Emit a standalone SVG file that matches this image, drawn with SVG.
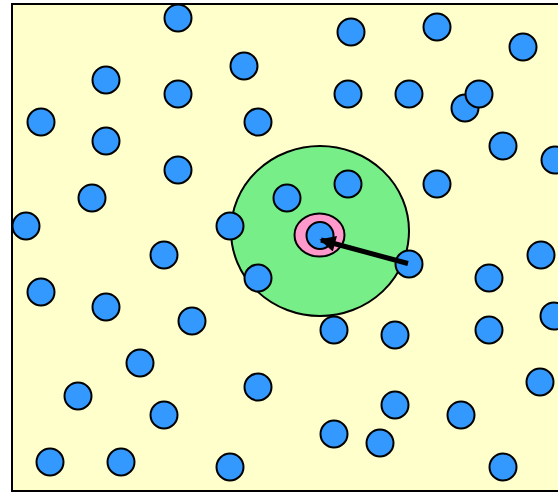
<svg xmlns="http://www.w3.org/2000/svg" width="558" height="492" viewBox="0 0 558 492">
<defs>
<style>
.p{fill:#3399ff;stroke:#000;stroke-width:2}
</style>
<marker id="ah" viewBox="0 0 10 10" refX="9" refY="5" markerWidth="3.6" markerHeight="3.2" orient="auto" markerUnits="strokeWidth">
<path d="M0,0 L10,5 L0,10 Z" fill="#000"/>
</marker>
</defs>
<rect x="12" y="4" width="560" height="487" fill="#ffffcc" stroke="#000" stroke-width="2"/>
<g id="range">
<ellipse cx="320" cy="231" rx="89" ry="85" fill="#77ee88" stroke="#000" stroke-width="2"/>
</g>
<g id="focus">
<ellipse cx="319.5" cy="235" rx="25" ry="21.5" fill="#ff99cc" stroke="#000" stroke-width="2"/>
</g>
<g id="particles">
<circle class="p" cx="178" cy="18" r="13.5"/>
<circle class="p" cx="244" cy="66" r="13.5"/>
<circle class="p" cx="106" cy="80" r="13.5"/>
<circle class="p" cx="178" cy="94" r="13.5"/>
<circle class="p" cx="41" cy="122" r="13.5"/>
<circle class="p" cx="258" cy="122" r="13.5"/>
<circle class="p" cx="106" cy="141" r="13.5"/>
<circle class="p" cx="178" cy="170" r="13.5"/>
<circle class="p" cx="92" cy="198" r="13.5"/>
<circle class="p" cx="26" cy="226" r="13.5"/>
<circle class="p" cx="230" cy="226" r="13.5"/>
<circle class="p" cx="164" cy="255" r="13.5"/>
<circle class="p" cx="351" cy="32" r="13.5"/>
<circle class="p" cx="437" cy="27" r="13.5"/>
<circle class="p" cx="523" cy="47" r="13.5"/>
<circle class="p" cx="348" cy="94" r="13.5"/>
<circle class="p" cx="409" cy="94" r="13.5"/>
<circle class="p" cx="465" cy="108" r="13.5"/>
<circle class="p" cx="479" cy="94" r="13.5"/>
<circle class="p" cx="503" cy="146" r="13.5"/>
<circle class="p" cx="555" cy="160" r="13.5"/>
<circle class="p" cx="348" cy="184" r="13.5"/>
<circle class="p" cx="437" cy="184" r="13.5"/>
<circle class="p" cx="287" cy="198" r="13.5"/>
<circle class="p" cx="320" cy="235.5" r="13.5"/>
<circle class="p" cx="41" cy="292" r="13.5"/>
<circle class="p" cx="106" cy="307" r="13.5"/>
<circle class="p" cx="192" cy="321" r="13.5"/>
<circle class="p" cx="258" cy="278" r="13.5"/>
<circle class="p" cx="140" cy="363" r="13.5"/>
<circle class="p" cx="78" cy="396" r="13.5"/>
<circle class="p" cx="258" cy="387" r="13.5"/>
<circle class="p" cx="164" cy="415" r="13.5"/>
<circle class="p" cx="50" cy="462" r="13.5"/>
<circle class="p" cx="121" cy="462" r="13.5"/>
<circle class="p" cx="230" cy="467" r="13.5"/>
<circle class="p" cx="409" cy="264" r="13.5"/>
<circle class="p" cx="541" cy="255" r="13.5"/>
<circle class="p" cx="489" cy="278" r="13.5"/>
<circle class="p" cx="554" cy="316" r="13.5"/>
<circle class="p" cx="334" cy="330" r="13.5"/>
<circle class="p" cx="395" cy="335" r="13.5"/>
<circle class="p" cx="489" cy="330" r="13.5"/>
<circle class="p" cx="540" cy="382" r="13.5"/>
<circle class="p" cx="395" cy="405" r="13.5"/>
<circle class="p" cx="461" cy="415" r="13.5"/>
<circle class="p" cx="334" cy="434" r="13.5"/>
<circle class="p" cx="380" cy="443" r="13.5"/>
<circle class="p" cx="503" cy="467" r="13.5"/>
</g>
<g id="connectors">
<line x1="408" y1="263.5" x2="321" y2="240" stroke="#000" stroke-width="5" marker-end="url(#ah)"/>
</g>
</svg>
